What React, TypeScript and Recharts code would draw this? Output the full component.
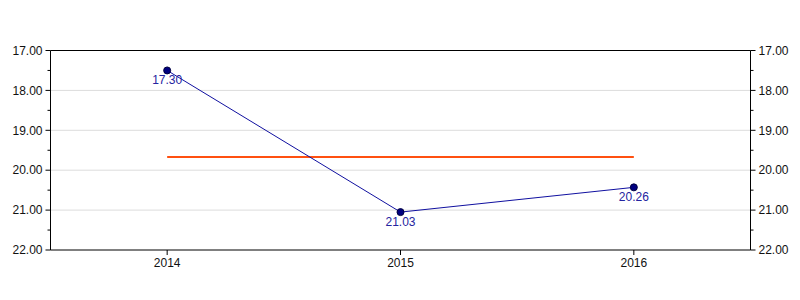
import { LabelList, Line, LineChart, ReferenceLine, XAxis, YAxis } from "recharts"

const years = [2014, 2015, 2016]
const values = [17.5, 21.05, 20.43]
const valueLabels = ["17.30", "21.03", "20.26"]
const average = [19.67, 19.67, 19.67]
const yTicks = [17, 17.5, 18, 18.5, 19, 19.5, 20, 20.5, 21, 21.5, 22]
const gridValues = [18, 19, 20, 21]

const data = years.map((year, i) => ({
  year,
  value: values[i],
  label: valueLabels[i],
  avg: average[i],
}))

const font = "'Liberation Sans', Arial, sans-serif"

function YTick(props: any) {
  const { x, y, payload, side } = props
  const major = Number.isInteger(payload.value)
  const len = major ? 5 : 3
  // text sits 8px (tickSize + tickMargin) away from the axis line
  const axisX = side === "left" ? x + 8 : x - 8
  const x2 = side === "left" ? axisX - len : axisX + len
  return (
    <g>
      <line x1={axisX} x2={x2} y1={y} y2={y} stroke="#000" />
      {major && (
        <text
          x={x}
          y={y}
          dy="0.35em"
          textAnchor={side === "left" ? "end" : "start"}
          fontSize={12}
          fontFamily={font}
          fill="#111"
        >
          {payload.value.toFixed(2)}
        </text>
      )}
    </g>
  )
}

export default function App() {
  return (
    <div style={{ position: "absolute", left: 0, top: 0, background: "#fff" }}>
      <LineChart width={800} height={300} data={data} margin={{ top: 50.5, right: -0.5, bottom: 0, left: 0.5 }}>
        {gridValues.map((v) => (
          <ReferenceLine key={v} yAxisId="left" y={v} stroke="#dcdcdc" />
        ))}
        <XAxis
          dataKey="year"
          type="number"
          domain={[2013.5, 2016.5]}
          ticks={years}
          height={50}
          tickSize={5}
          tickMargin={3}
          stroke="#000"
          tick={{ fill: "#111", fontSize: 12, fontFamily: font }}
        />
        <YAxis
          yAxisId="left"
          orientation="left"
          reversed
          domain={[17, 22]}
          ticks={yTicks}
          interval={0}
          width={50}
          tickSize={5}
          tickMargin={3}
          tickLine={false}
          stroke="#000"
          tick={(p: any) => <YTick {...p} side="left" />}
        />
        <YAxis
          yAxisId="right"
          orientation="right"
          reversed
          domain={[17, 22]}
          ticks={yTicks}
          interval={0}
          width={50}
          tickSize={5}
          tickMargin={3}
          tickLine={false}
          stroke="#000"
          tick={(p: any) => <YTick {...p} side="right" />}
        />
        <ReferenceLine yAxisId="left" y={17} stroke="#000" />
        <Line
          yAxisId="right"
          dataKey="avg"
          stroke="#ff5010"
          strokeWidth={2}
          dot={false}
          isAnimationActive={false}
        />
        <Line
          yAxisId="left"
          dataKey="value"
          stroke="#1010a0"
          strokeWidth={1}
          dot={{ r: 3.5, fill: "#000080", stroke: "#000040", strokeWidth: 1 }}
          isAnimationActive={false}
        >
          <LabelList
            dataKey="label"
            position="bottom"
            offset={5}
            fontSize={12}
            fontFamily={font}
            fill="#2424a0"
          />
        </Line>
      </LineChart>
    </div>
  )
}
